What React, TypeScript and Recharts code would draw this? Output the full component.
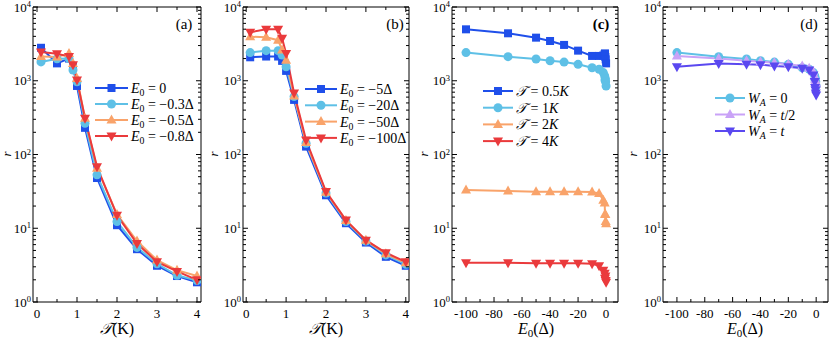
import React from 'react';
import { LineChart, Line, XAxis, YAxis, Legend } from 'recharts';

const FONT = '"Liberation Serif", "DejaVu Serif", "Times New Roman", serif';

// ---------- data ----------
const tempPoints = [0.1, 0.5, 0.8, 0.9, 1.0, 1.2, 1.5, 2, 2.5, 3, 3.5, 4];
// panel (a)
const aE0_0 = [2800, 1720, 2000, 1550, 850, 230, 48, 11, 5.2, 3.1, 2.25, 1.85];
const aE0_03 = [1800, 1980, 2000, 1400, 970, 265, 53, 12.3, 5.5, 3.3, 2.3, 1.95];
const aE0_05 = [2130, 2100, 2350, 1720, 1070, 310, 65, 15.4, 6.7, 3.7, 2.7, 2.25];
const aE0_08 = [2450, 2330, 2130, 1650, 1020, 310, 68, 15, 6.2, 3.5, 2.6, 2.0];
// panel (b)
const bE0_5 = [2080, 2130, 2130, 1860, 1360, 550, 128, 28, 11.7, 6.4, 4.1, 3.1];
const bE0_20 = [2410, 2560, 2560, 2230, 1550, 610, 142, 30, 12.3, 6.7, 4.35, 3.25];
const bE0_50 = [3960, 3880, 3550, 2620, 1900, 620, 145, 30.7, 12.7, 6.9, 4.5, 3.4];
const bE0_100 = [4550, 4980, 4980, 3770, 2350, 680, 157, 31.4, 12.9, 6.9, 4.65, 3.5];
// panel (c)
const e0Points = [-100, -70, -50, -40, -30, -20, -10, -5, -2, -1, -0.8, -0.5, -0.3, 0];
const cT05 = [4980, 4400, 3840, 3460, 3060, 2560, 2170, 2170, 2200, 2300, 2350, 2100, 1950, 1720];
const cT1 = [2410, 2120, 1970, 1870, 1790, 1670, 1500, 1430, 1290, 1160, 1020, 1070, 970, 850];
const cT2 = [33, 32, 31.3, 31.3, 31.3, 31.3, 31, 29.6, 24, 22, 15.5, 15.4, 12.3, 11.5];
const cT4 = [3.4, 3.4, 3.35, 3.35, 3.35, 3.35, 3.3, 3.1, 2.7, 2.45, 2.1, 2.25, 1.95, 1.85];
// panel (d)
const dWA0 = [2410, 2120, 1970, 1870, 1790, 1670, 1500, 1430, 1290, 1160, 1020, 1070, 970, 850];
const dWAhalf = [2170, 2000, 1870, 1810, 1760, 1670, 1590, 1480, 1320, 1140, 1050, 1000, 950, 900];
const dWAt = [1550, 1720, 1670, 1650, 1590, 1550, 1480, 1400, 1200, 980, 810, 750, 680, 640];

const yTicks: number[] = [];
[1, 10, 100, 1000].forEach((d) => { for (let k = 1; k < 10; k++) yTicks.push(d * k); });
yTicks.push(10000);
const tTicks = [0, 0.5, 1, 1.5, 2, 2.5, 3, 3.5, 4];
const eTicks = [-100, -90, -80, -70, -60, -50, -40, -30, -20, -10, 0];

// ---------- colours ----------
const BLUE = '#1f4fea';
const CYAN = '#5ec0e6';
const ORANGE = '#f9a36a';
const RED = '#ea3a3c';
const LPURPLE = '#c9a2f7';
const BPURPLE = '#5a48f0';

const Marker = ({ shape, cx, cy, color }: any) => {
  if (cx == null || cy == null || isNaN(cx) || isNaN(cy)) return <g />;
  const s = 4;
  if (shape === 'square') return <rect x={cx - s} y={cy - s} width={2 * s} height={2 * s} fill={color} />;
  if (shape === 'circle') return <circle cx={cx} cy={cy} r={4.5} fill={color} />;
  if (shape === 'up')
    return <polygon points={`${cx},${cy - 5.5} ${cx - 5},${cy + 3.5} ${cx + 5},${cy + 3.5}`} fill={color} />;
  return <polygon points={`${cx},${cy + 5.5} ${cx - 5},${cy - 3.5} ${cx + 5},${cy - 3.5}`} fill={color} />;
};

const Sub = ({ children, italic }: any) => (
  <tspan baselineShift="-25%" fontSize="70%" fontStyle={italic ? 'italic' : 'normal'}>{children}</tspan>
);

const E0 = (rest: string) => (
  <>
    <tspan fontStyle="italic">E</tspan>
    <Sub>0</Sub>
    <tspan>{rest}</tspan>
  </>
);
const TT = (v: string) => (
  <>
    <tspan fontStyle="italic">{'𝒯'}</tspan>
    <tspan>{' = ' + v}</tspan>
    <tspan fontStyle="italic">K</tspan>
  </>
);
const WA = (v: React.ReactNode) => (
  <>
    <tspan fontStyle="italic">W</tspan>
    <Sub italic>A</Sub>
    <tspan>{' = '}</tspan>
    {v}
  </>
);

type S = { key: string; label: React.ReactNode; color: string; shape: string; values: number[] };

const seriesA: S[] = [
  { key: 's0', label: E0(' = 0'), color: BLUE, shape: 'square', values: aE0_0 },
  { key: 's1', label: E0(' = −0.3Δ'), color: CYAN, shape: 'circle', values: aE0_03 },
  { key: 's2', label: E0(' = −0.5Δ'), color: ORANGE, shape: 'up', values: aE0_05 },
  { key: 's3', label: E0(' = −0.8Δ'), color: RED, shape: 'down', values: aE0_08 },
];
const seriesB: S[] = [
  { key: 's0', label: E0(' = −5Δ'), color: BLUE, shape: 'square', values: bE0_5 },
  { key: 's1', label: E0(' = −20Δ'), color: CYAN, shape: 'circle', values: bE0_20 },
  { key: 's2', label: E0(' = −50Δ'), color: ORANGE, shape: 'up', values: bE0_50 },
  { key: 's3', label: E0(' = −100Δ'), color: RED, shape: 'down', values: bE0_100 },
];
const seriesC: S[] = [
  { key: 's0', label: TT('0.5'), color: BLUE, shape: 'square', values: cT05 },
  { key: 's1', label: TT('1'), color: CYAN, shape: 'circle', values: cT1 },
  { key: 's2', label: TT('2'), color: ORANGE, shape: 'up', values: cT2 },
  { key: 's3', label: TT('4'), color: RED, shape: 'down', values: cT4 },
];
const seriesD: S[] = [
  { key: 's0', label: WA('0'), color: CYAN, shape: 'circle', values: dWA0 },
  { key: 's1', label: WA(<><tspan fontStyle="italic">t</tspan><tspan>/2</tspan></>), color: LPURPLE, shape: 'up', values: dWAhalf },
  { key: 's2', label: WA(<tspan fontStyle="italic">t</tspan>), color: BPURPLE, shape: 'down', values: dWAt },
];

const makeRows = (xs: number[], series: S[]) =>
  xs.map((x, i) => {
    const r: any = { x };
    series.forEach((s) => (r[s.key] = s.values[i]));
    return r;
  });

const isDecade = (v: number) => Math.abs(Math.log10(v) - Math.round(Math.log10(v))) < 1e-9;

const mkXTick = (isMajor: (v: number) => boolean, top: boolean) => (p: any) => {
  const v = p.payload.value;
  const M = isMajor(v);
  const len = M ? 5 : 3;
  return (
    <g>
      <line x1={p.x} x2={p.x} y1={p.y} y2={top ? p.y + len : p.y - len} stroke="#000" strokeWidth={1} />
      {!top && M && (
        <text x={p.x} y={p.y + 16} textAnchor="middle" fontFamily={FONT} fontSize={13} fill="#000">
          {String(v)}
        </text>
      )}
    </g>
  );
};

const mkYTick = (right: boolean) => (p: any) => {
  const v = p.payload.value;
  const M = isDecade(v);
  const len = M ? 5 : 3;
  return (
    <g>
      <line y1={p.y} y2={p.y} x1={p.x} x2={right ? p.x - len : p.x + len} stroke="#000" strokeWidth={1} />
      {!right && M && (
        <text x={p.x - 2} y={p.y + 4.5} textAnchor="end" fontFamily={FONT} fontSize={13} fill="#000">
          10
          <tspan dy={-4.5} fontSize={8.5}>{String(Math.round(Math.log10(v)))}</tspan>
        </text>
      )}
    </g>
  );
};

type PanelProps = {
  plotLeft: number;
  plotRight: number;
  xDomain: [number, number];
  xTicks: number[];
  isMajor: (v: number) => boolean;
  xs: number[];
  series: S[];
  legend: { x: number; y: number; gap: number; lineLen: number };
};

const PLOT_TOP = 7;
const PLOT_BOTTOM = 302;

const Panel = ({ plotLeft, plotRight, xDomain, xTicks, isMajor, xs, series, legend }: PanelProps) => {
  const rows = makeRows(xs, series);
  const legendContent = () => (
    <svg width={140} height={legend.gap * series.length + 10} style={{ display: 'block', overflow: 'visible' }}>
      {series.map((s, i) => {
        const cy = 8 + i * legend.gap;
        return (
          <g key={s.key}>
            <line x1={0} x2={legend.lineLen} y1={cy} y2={cy} stroke={s.color} strokeWidth={2} />
            <Marker shape={s.shape} cx={legend.lineLen / 2} cy={cy} color={s.color} />
            <text x={legend.lineLen + 3} y={cy + 5} fontFamily={FONT} fontSize={14} fill="#000">
              {s.label}
            </text>
          </g>
        );
      })}
    </svg>
  );
  const axisCommon = {
    interval: 0 as const,
    allowDataOverflow: true,
    tickSize: 0,
    tickMargin: 0,
    tickLine: false,
    axisLine: { stroke: '#000', strokeWidth: 1 },
  };
  return (
    <div style={{ position: 'absolute', left: 0, top: 0 }}>
      <LineChart
        width={831}
        height={339}
        data={rows}
        margin={{ top: PLOT_TOP - 1, bottom: 339 - PLOT_BOTTOM - 1, left: plotLeft - 1, right: 831 - plotRight - 1 }}
      >
        <XAxis
          xAxisId="b"
          dataKey="x"
          type="number"
          domain={xDomain}
          ticks={xTicks}
          height={1}
          tick={mkXTick(isMajor, false)}
          {...axisCommon}
        />
        <XAxis
          xAxisId="t"
          orientation="top"
          dataKey="x"
          type="number"
          domain={xDomain}
          ticks={xTicks}
          height={1}
          tick={mkXTick(isMajor, true)}
          {...axisCommon}
        />
        <YAxis
          yAxisId="l"
          type="number"
          scale="log"
          domain={[1, 10000]}
          ticks={yTicks}
          width={1}
          tick={mkYTick(false)}
          {...axisCommon}
        />
        <YAxis
          yAxisId="r"
          orientation="right"
          type="number"
          scale="log"
          domain={[1, 10000]}
          ticks={yTicks}
          width={1}
          tick={mkYTick(true)}
          {...axisCommon}
        />
        {series.map((s) => (
          <Line
            key={s.key}
            xAxisId="b"
            yAxisId="l"
            dataKey={s.key}
            stroke={s.color}
            strokeWidth={2}
            isAnimationActive={false}
            dot={(p: any) => <Marker key={`${s.key}-${p.index}`} shape={s.shape} cx={p.cx} cy={p.cy} color={s.color} />}
            activeDot={false}
          />
        ))}
        <Legend
          layout="vertical"
          align="center"
          verticalAlign="middle"
          content={legendContent}
          wrapperStyle={{ left: legend.x, top: legend.y, width: 140, height: 'auto' }}
        />
      </LineChart>
    </div>
  );
};

const intMajor = (v: number) => Math.abs(v - Math.round(v)) < 1e-9;
const twentyMajor = (v: number) => Math.abs(v % 20) < 1e-9;

const Titles = () => {
  const yLabels = [11, 218, 428, 637];
  return (
    <svg width={831} height={339} style={{ position: 'absolute', left: 0, top: 0, pointerEvents: 'none' }}>
      {yLabels.map((x, i) => (
        <text
          key={i}
          x={0}
          y={0}
          transform={`translate(${x},154) rotate(-90)`}
          textAnchor="middle"
          fontFamily={FONT}
          fontStyle="italic"
          fontSize={13}
          fill="#000"
        >
          r
        </text>
      ))}
      <text x={117} y={334} textAnchor="middle" fontFamily={FONT} fontSize={16} fill="#000">
        <tspan fontStyle="italic">{'𝒯'}</tspan>(K)
      </text>
      <text x={326} y={334} textAnchor="middle" fontFamily={FONT} fontSize={16} fill="#000">
        <tspan fontStyle="italic">{'𝒯'}</tspan>(K)
      </text>
      <text x={536} y={334} textAnchor="middle" fontFamily={FONT} fontSize={16} fill="#000">
        <tspan fontStyle="italic">E</tspan>
        <tspan baselineShift="-25%" fontSize={11}>0</tspan>
        <tspan>(Δ)</tspan>
      </text>
      <text x={745} y={334} textAnchor="middle" fontFamily={FONT} fontSize={16} fill="#000">
        <tspan fontStyle="italic">E</tspan>
        <tspan baselineShift="-25%" fontSize={11}>0</tspan>
        <tspan>(Δ)</tspan>
      </text>
      <text x={184} y={29} textAnchor="middle" fontFamily={FONT} fontSize={15} fill="#000">(a)</text>
      <text x={395} y={29} textAnchor="middle" fontFamily={FONT} fontSize={15} fill="#000">(b)</text>
      <text x={601} y={29} textAnchor="middle" fontFamily={FONT} fontSize={15} fontWeight="bold" fill="#000">(c)</text>
      <text x={809} y={29} textAnchor="middle" fontFamily={FONT} fontSize={15} fill="#000">(d)</text>
    </svg>
  );
};

export default function App() {
  return (
    <div style={{ position: 'absolute', left: 0, top: 0, width: 831, height: 339, background: '#fff', overflow: 'hidden' }}>
      <Panel
        plotLeft={33}
        plotRight={201}
        xDomain={[-0.1, 4.1]}
        xTicks={tTicks}
        isMajor={intMajor}
        xs={tempPoints}
        series={seriesA}
        legend={{ x: 95, y: 80, gap: 16, lineLen: 33 }}
      />
      <Panel
        plotLeft={243}
        plotRight={409}
        xDomain={[-0.08, 4.08]}
        xTicks={tTicks}
        isMajor={intMajor}
        xs={tempPoints}
        series={seriesB}
        legend={{ x: 305, y: 81, gap: 16.3, lineLen: 32 }}
      />
      <Panel
        plotLeft={452}
        plotRight={618}
        xDomain={[-110, 8.5]}
        xTicks={eTicks}
        isMajor={twentyMajor}
        xs={e0Points}
        series={seriesC}
        legend={{ x: 483, y: 83, gap: 16.7, lineLen: 30 }}
      />
      <Panel
        plotLeft={663}
        plotRight={828}
        xDomain={[-110, 8.5]}
        xTicks={eTicks}
        isMajor={twentyMajor}
        xs={e0Points}
        series={seriesD}
        legend={{ x: 715, y: 90, gap: 16.5, lineLen: 30 }}
      />
      <Titles />
    </div>
  );
}
